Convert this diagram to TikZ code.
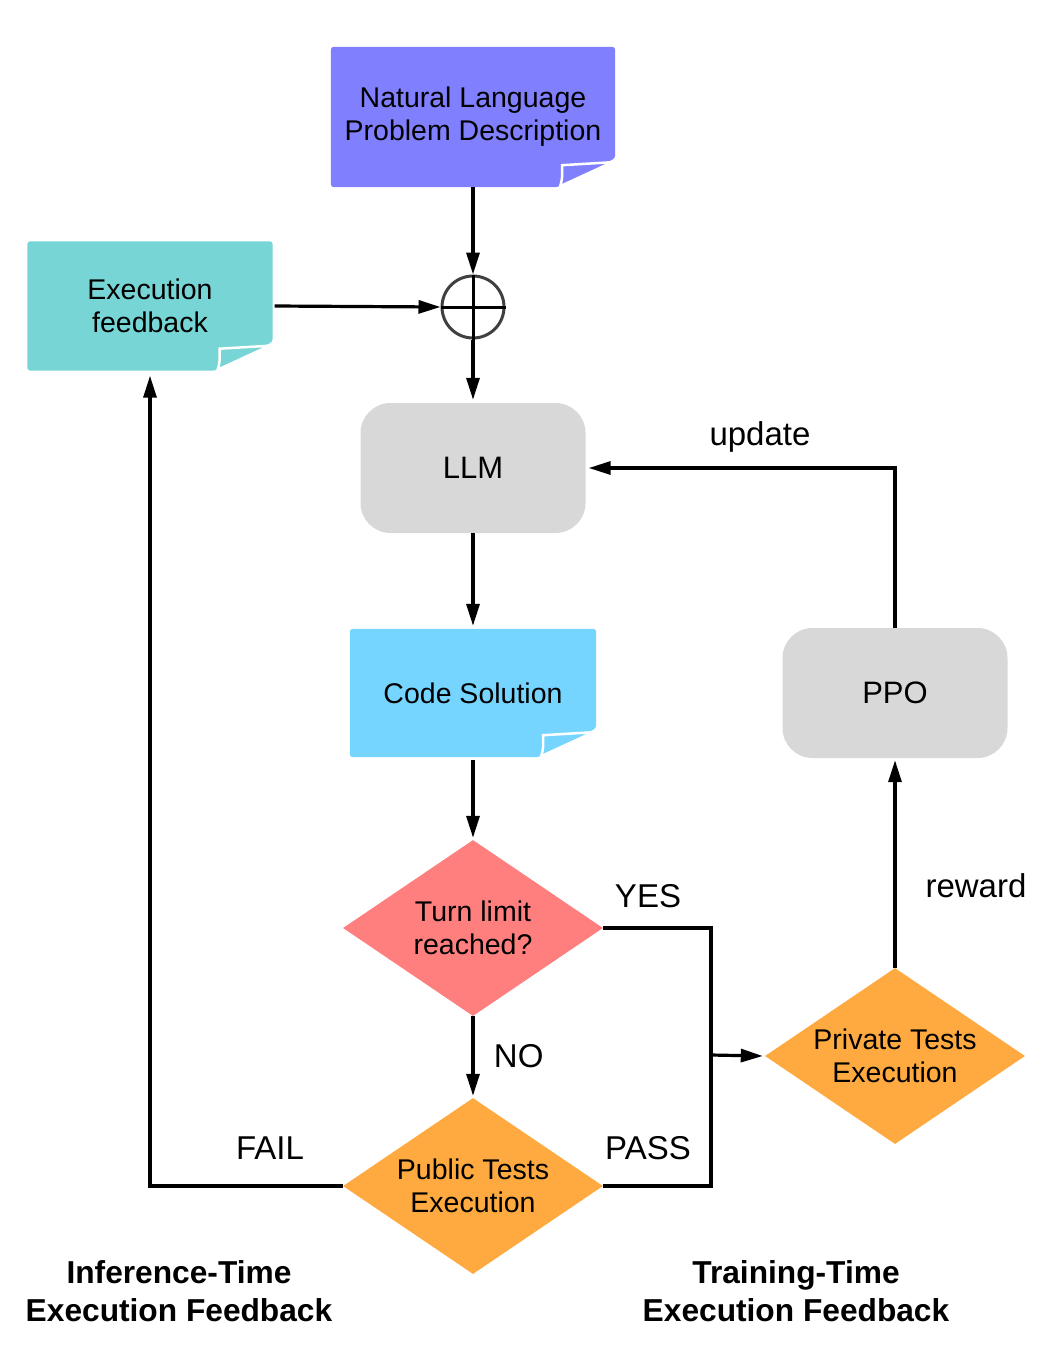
\documentclass[tikz,border=0pt]{standalone}
\usepackage{fontspec}
\setmainfont{Liberation Sans}
\usetikzlibrary{shapes.geometric,arrows.meta,backgrounds}
\definecolor{nlblue}{HTML}{8080FF}
\definecolor{fbteal}{HTML}{77D5D5}
\definecolor{codeblue}{HTML}{75D5FF}
\definecolor{llmgray}{HTML}{D8D8D8}
\definecolor{dred}{HTML}{FF7F7F}
\definecolor{dorange}{HTML}{FFAA40}
\tikzset{
  note/.style={rectangle,inner sep=0pt,align=center,font=\fontsize{28.5}{33}\selectfont},
  box/.style={rectangle,rounded corners=30pt,fill=llmgray,inner sep=0pt,minimum width=225pt,minimum height=130pt,font=\fontsize{31}{33}\selectfont},
  dia/.style={diamond,aspect=1.48,inner sep=0pt,minimum width=260pt,minimum height=176pt,align=center,font=\fontsize{28.5}{33}\selectfont},
  arr/.style={line width=3.2pt,-{Triangle[length=22pt,width=13pt]}},
  lin/.style={line width=3.2pt},
  lab/.style={font=\fontsize{33}{35}\selectfont},
  big/.style={font=\bfseries\fontsize{31.7}{38}\selectfont,align=center},
}
% sticky note with curled corner
\newcommand{\notefill}[2]{%
  \begin{scope}[on background layer]
  \fill[#2,rounded corners=3pt] (#1.north west) -- (#1.north east) -- ([yshift=29pt]#1.south east)
    -- ([xshift=-58pt]#1.south east) -- (#1.south west) -- cycle;
  \filldraw[#2,draw=white,line width=2.5pt] ([xshift=-55pt,yshift=1pt]#1.south east)
    .. controls ([xshift=-53pt,yshift=8pt]#1.south east) .. ([xshift=-53pt,yshift=22pt]#1.south east)
    -- ([xshift=-3pt,yshift=25pt]#1.south east) -- cycle;
  \end{scope}}
\begin{document}
\begin{tikzpicture}[x=1pt,y=-1pt]
\useasboundingbox (0,0) rectangle (1062,1366);

% notes
\node[note,minimum width=284pt,minimum height=140pt] (nl) at (473,117) {Natural Language\\Problem Description};
\notefill{nl}{nlblue}
\node[note,minimum width=245pt,minimum height=129pt] (fb) at (150,306) {Execution\\feedback};
\notefill{fb}{fbteal}
\node[note,minimum width=246pt,minimum height=128pt] (code) at (473,693) {Code Solution};
\notefill{code}{codeblue}

% combine
\node[circle,draw=black!75,line width=3pt,minimum size=62pt,inner sep=0pt] (plus) at (473,307) {};
\draw[line width=3pt] (plus.north) -- (plus.south) (plus.west) -- (plus.east);

% boxes
\node[box] (llm) at (473,468) {LLM};
\node[box] (ppo) at (895,693) {PPO};

% decisions
\node[dia,fill=dred] (turn) at (473,928) {Turn limit\\reached?};
\node[dia,fill=dorange] (pub) at (473,1186) {Public Tests\\Execution};
\node[dia,fill=dorange] (priv) at (895,1056) {Private Tests\\Execution};

\coordinate (j) at (711,1055);

% connectors
\draw[arr] (nl.south) -- (plus.north);
\draw[arr] ([xshift=2pt]fb.east) -- (plus.west);
\draw[arr] (plus.south) -- ([yshift=3pt]llm.north);
\draw[arr] (llm.south) -- ([yshift=3pt]code.north);
\draw[arr] ([yshift=-3pt]code.south) -- ([yshift=2pt]turn.north);
\draw[arr] (turn.south) -- ([yshift=2pt]pub.north) node[lab,midway,right=16pt] {NO};
\draw[lin] (turn.east) -- (turn.east -| j) -- (j);
\draw[lin] (pub.east) -- (pub.east -| j) -- (j);
\draw[arr] (j) -- ([xshift=-2pt]priv.west);
\draw[arr] (pub.west) -- (pub.west -| fb.south) -- ([yshift=-5pt]fb.south);
\draw[arr] (priv.north) -- ([yshift=-2pt]ppo.south);
\draw[arr] (ppo.north) -- (ppo.north |- llm.east) -- ([xshift=3pt]llm.east);

% labels
\node[lab] at (648,896) {YES};
\node[lab] at (648,1148) {PASS};
\node[lab] at (270,1148) {FAIL};
\node[lab] at (976,886) {reward};
\node[lab] at (760,437) {update};
\node[big] at (179,1291) {Inference-Time\\Execution Feedback};
\node[big] at (796,1291) {Training-Time\\Execution Feedback};
\end{tikzpicture}
\end{document}
